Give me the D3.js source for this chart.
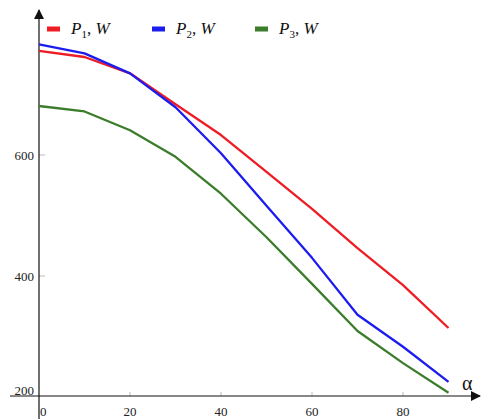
<!DOCTYPE html>
<html>
<head>
<meta charset="utf-8">
<script src="https://cdn.jsdelivr.net/npm/d3@7"></script>
<style>
  body { margin: 0; background: #fff; }
</style>
</head>
<body>
<div id="chart"></div>
<script>
// data
var alpha = [0, 10, 20, 30, 40, 50, 60, 70, 80, 90]
var p1 = [772, 762, 735, 684, 633, 572, 511, 446, 385, 314]
var p2 = [783, 768, 735, 679, 603, 516, 430, 336, 283, 225]
var p3 = [681, 672, 641, 597, 536, 464, 387, 309, 256, 207]

var xTicks = [0, 20, 40, 60, 80]
var yTicks = [200, 400, 600]

var seriesNames = ['1', '2', '3']
var seriesColors = ['#ee1c24', '#1c1cee', '#3b7d2b']

var serif = "'Liberation Serif', 'Times New Roman', 'DejaVu Serif', serif"

var width = 481
var height = 419

var svg = d3
  .select('#chart')
  .append('svg')
  .attr('width', width)
  .attr('height', height)
  .attr('font-family', serif)

// scales
var xPositionScale = d3.scaleLinear().domain([0, 80]).range([39, 403])
var yPositionScale = d3.scaleLinear().domain([200, 600]).range([397, 155])

var axisY = 396
var axisX = xPositionScale(0)

// arrow marker
svg
  .append('defs')
  .append('marker')
  .attr('id', 'arrow')
  .attr('viewBox', '0 0 10 10')
  .attr('refX', 9)
  .attr('refY', 5)
  .attr('markerWidth', 10)
  .attr('markerHeight', 10)
  .attr('markerUnits', 'userSpaceOnUse')
  .attr('orient', 'auto')
  .append('path')
  .attr('d', 'M0,0 L10,5 L0,10 z')
  .attr('fill', '#111')

// small tick marks
svg
  .selectAll('.x-tick')
  .data(xTicks.slice(1))
  .enter()
  .append('line')
  .attr('x1', d => xPositionScale(d))
  .attr('x2', d => xPositionScale(d))
  .attr('y1', axisY - 4)
  .attr('y2', axisY)
  .attr('stroke', '#bbb')

svg
  .selectAll('.y-tick')
  .data(yTicks.slice(1))
  .enter()
  .append('line')
  .attr('x1', axisX)
  .attr('x2', axisX + 6)
  .attr('y1', d => yPositionScale(d))
  .attr('y2', d => yPositionScale(d))
  .attr('stroke', '#bbb')

// axes lines
svg
  .append('line')
  .attr('x1', 10)
  .attr('x2', 480)
  .attr('y1', axisY)
  .attr('y2', axisY)
  .attr('stroke', '#111')
  .attr('stroke-width', 1.2)
  .attr('marker-end', 'url(#arrow)')

svg
  .append('line')
  .attr('x1', axisX)
  .attr('x2', axisX)
  .attr('y1', height)
  .attr('y2', 10)
  .attr('stroke', '#111')
  .attr('stroke-width', 1.2)
  .attr('marker-end', 'url(#arrow)')

// tick labels
svg
  .selectAll('.x-label')
  .data(xTicks)
  .enter()
  .append('text')
  .attr('x', d => (d === 0 ? axisX + 1 : xPositionScale(d)))
  .attr('y', 416)
  .attr('text-anchor', d => (d === 0 ? 'start' : 'middle'))
  .attr('font-size', 13)
  .attr('fill', '#222')
  .text(d => d)

svg
  .selectAll('.y-label')
  .data(yTicks)
  .enter()
  .append('text')
  .attr('x', 34)
  .attr('y', d => (d === 200 ? 395 : yPositionScale(d) + 4.5))
  .attr('text-anchor', 'end')
  .attr('font-size', 13)
  .attr('fill', '#222')
  .text(d => d)

svg
  .append('text')
  .attr('x', 462)
  .attr('y', 390)
  .attr('font-size', 20)
  .attr('fill', '#111')
  .text('α')

// lines
var allSeries = [p1, p2, p3]

var line = d3
  .line()
  .x((d, i) => xPositionScale(alpha[i]))
  .y(d => yPositionScale(d))

svg
  .selectAll('.series')
  .data(allSeries)
  .enter()
  .append('path')
  .attr('class', 'series')
  .attr('d', d => line(d))
  .attr('fill', 'none')
  .attr('stroke', (d, i) => seriesColors[i])
  .attr('stroke-width', 2.3)
  .attr('stroke-linejoin', 'round')

// legend
var legendX = [47, 152, 255]

var legend = svg
  .selectAll('.legend')
  .data(seriesNames)
  .enter()
  .append('g')
  .attr('class', 'legend')
  .attr('transform', (d, i) => 'translate(' + legendX[i] + ',29)')

legend
  .append('rect')
  .attr('x', 0)
  .attr('y', -2.5)
  .attr('width', 13)
  .attr('height', 5)
  .attr('fill', (d, i) => seriesColors[i])

var label = legend
  .append('text')
  .attr('x', 24)
  .attr('y', 5)
  .attr('font-size', 17)
  .attr('fill', '#111')

label.append('tspan').attr('font-style', 'italic').text('P')
label
  .append('tspan')
  .attr('font-size', 11)
  .attr('dy', 4)
  .text(d => d)
label
  .append('tspan')
  .attr('dy', -4)
  .text(', ')
label.append('tspan').attr('font-style', 'italic').text('W')
</script>
</body>
</html>
